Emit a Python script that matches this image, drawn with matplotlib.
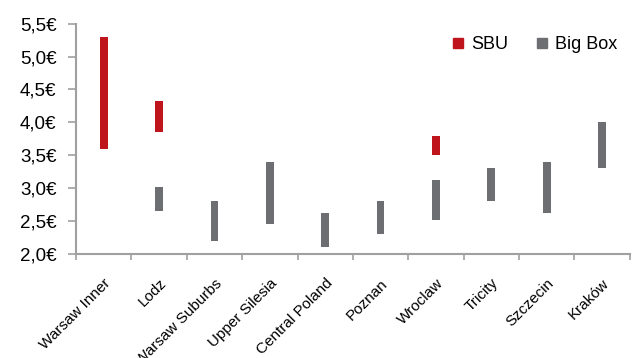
import matplotlib.pyplot as plt
import numpy as np
from matplotlib.lines import Line2D
from matplotlib.ticker import FuncFormatter

plt.rcParams['font.family'] = ['Liberation Sans', 'DejaVu Sans']

regions = ['Warsaw Inner', 'Lodz', 'Warsaw Suburbs', 'Upper Silesia', 'Central Poland',
           'Poznan', 'Wroclaw', 'Tricity', 'Szczecin', 'Kraków']

# rent ranges in EUR/sqm/month, None where the format is not present
sbu_low = [3.6, 3.85, None, None, None, None, 3.5, None, None, None]
sbu_high = [5.3, 4.32, None, None, None, None, 3.8, None, None, None]
bigbox_low = [None, 2.65, 2.2, 2.45, 2.1, 2.3, 2.52, 2.8, 2.62, 3.3]
bigbox_high = [None, 3.02, 2.8, 3.4, 2.62, 2.8, 3.12, 3.3, 3.4, 4.0]

red = '#C0141C'
grey = '#6D6E71'
spine_grey = '#A0A0A0'

fig = plt.figure(figsize=(6.33, 3.58), dpi=100)
ax = fig.add_axes([0.120, 0.2905, 0.875, 0.6435])

x = np.arange(len(regions))
for lows, highs, col in [(sbu_low, sbu_high, red), (bigbox_low, bigbox_high, grey)]:
    for xi, lo, hi in zip(x, lows, highs):
        if lo is None:
            continue
        ax.bar(xi, hi - lo, bottom=lo, width=0.14, color=col, edgecolor='none')

ax.set_xlim(-0.5, len(regions) - 0.5)
ax.set_ylim(2.0, 5.5)
ax.set_yticks(np.arange(2.0, 5.51, 0.5))
ax.yaxis.set_major_formatter(FuncFormatter(lambda v, p: f"{v:.1f}€".replace('.', ',')))

# boundary ticks between categories, labels at the centres
ax.set_xticks(np.arange(-0.5, len(regions), 1.0))
ax.set_xticklabels([])
ax.set_xticks(x, minor=True)
ax.set_xticklabels(regions, minor=True, rotation=45, ha='right', rotation_mode='anchor',
                   fontsize=11)
ax.tick_params(axis='x', which='minor', length=0, pad=16)
ax.tick_params(axis='x', which='major', length=4, width=1.2, color=spine_grey)
ax.tick_params(axis='y', length=6, width=1.2, color=spine_grey, labelsize=13.5, pad=8)

for side in ['top', 'right']:
    ax.spines[side].set_visible(False)
for side in ['left', 'bottom']:
    ax.spines[side].set_color(spine_grey)
    ax.spines[side].set_linewidth(1.5)

handles = [Line2D([], [], marker='s', linestyle='none', color=red, markersize=6.5),
           Line2D([], [], marker='s', linestyle='none', color=grey, markersize=6.5)]
ax.legend(handles, ['SBU', 'Big Box'], ncol=2, frameon=False, fontsize=13,
          loc='upper right', bbox_to_anchor=(1.0, 1.0), handletextpad=0.4,
          columnspacing=1.6, handlelength=0.6, borderaxespad=0.3)

fig.savefig('out.png', dpi=100)
